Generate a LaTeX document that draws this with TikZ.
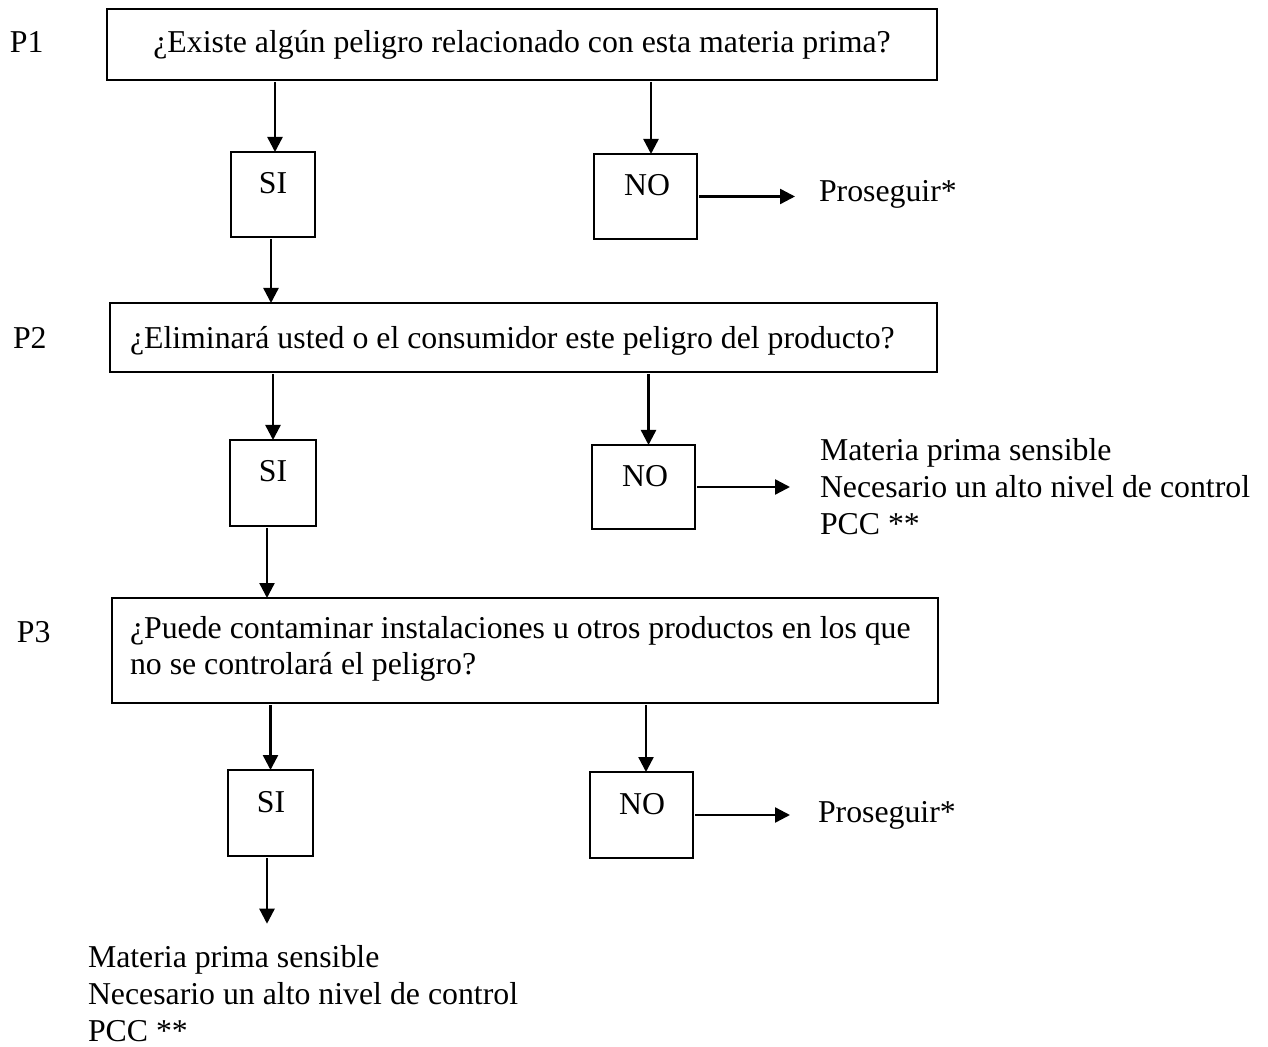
\documentclass[tikz,border=0pt]{standalone}
\usepackage{fontspec}
\setmainfont{Liberation Serif}
\usetikzlibrary{arrows.meta,calc}
\begin{document}
\begin{tikzpicture}[x=0.5pt,y=-0.5pt,
  box/.style={draw, line width=1pt, inner sep=0pt, outer sep=0pt},
  lbl/.style={inner sep=0pt, outer sep=0pt, font=\fontsize{15.9pt}{18.3pt}\selectfont},
  arr/.style={line width=1.2pt, shorten <=1pt, -{Triangle[length=7.5pt,width=7.5pt]}},
]
\useasboundingbox (0,0) rectangle (1268,1047);

% question boxes
\node[box, minimum width=415pt, minimum height=35.5pt] (q1) at (522,44.5) {};
\node[box, minimum width=413.5pt, minimum height=34.5pt] (q2) at (523.5,337.5) {};
\node[box, minimum width=413pt, minimum height=52.5pt] (q3) at (525,650.5) {};

% answer boxes
\node[box, minimum width=42pt, minimum height=42.5pt] (si1) at (273,194.5) {};
\node[box, minimum width=51.5pt, minimum height=42.5pt] (no1) at (645.5,196.5) {};
\node[box, minimum width=43pt, minimum height=43pt] (si2) at (273,483) {};
\node[box, minimum width=51.5pt, minimum height=42pt] (no2) at (643.5,487) {};
\node[box, minimum width=42.5pt, minimum height=43pt] (si3) at (270.5,813) {};
\node[box, minimum width=51.5pt, minimum height=43pt] (no3) at (641.5,815) {};

% question labels and texts (multi-line nodes sit on their last baseline)
\node[lbl, anchor=base west] (p1) at (10,53) {P1};
\node[lbl, anchor=base west] (p2) at (13,349) {P2};
\node[lbl, anchor=base west] (p3) at (17,642) {P3};
\node[lbl, anchor=base] (q1t) at (522,53) {¿Existe algún peligro relacionado con esta materia prima?};
\node[lbl, anchor=base west] (q2t) at (130,349) {¿Eliminará usted o el consumidor este peligro del producto?};
\node[lbl, anchor=base west, align=left] (q3t) at (130,674.6) {¿Puede contaminar instalaciones u otros productos en los que\\no se controlará el peligro?};

% answer texts
\node[lbl, anchor=base] (si1t) at (273,194) {SI};
\node[lbl, anchor=base] (no1t) at (647,196) {NO};
\node[lbl, anchor=base] (si2t) at (273,482) {SI};
\node[lbl, anchor=base] (no2t) at (645,487) {NO};
\node[lbl, anchor=base] (si3t) at (271,812) {SI};
\node[lbl, anchor=base] (no3t) at (642,814) {NO};

% outcomes
\node[lbl, anchor=base west] (pr1) at (819,202) {Proseguir*};
\node[lbl, anchor=base west, align=left] (sens1) at (820,534) {Materia prima sensible\\Necesario un alto nivel de control\\PCC **};
\node[lbl, anchor=base west] (pr2) at (818,822) {Proseguir*};
\node[lbl, anchor=base west, align=left] (sens2) at (88,1041) {Materia prima sensible\\Necesario un alto nivel de control\\PCC **};

% connectors, row 1
\coordinate (a1) at ($(si1.north)+(1pt,0)$);
\draw[arr] (q1.south -| a1) -- (a1);
\coordinate (a2) at ($(no1.north)+(2.75pt,0)$);
\draw[arr] (q1.south -| a2) -- (a2);
\draw[arr, shorten >=12pt] (no1.east) -- (no1.east -| pr1.west);
\coordinate (a3) at ($(si1.south)+(-1pt,0)$);
\draw[arr] (a3) -- (a3 |- q2.north);

% connectors, row 2
\draw[arr] (q2.south -| si2.north) -- (si2.north);
\coordinate (a4) at ($(no2.north)+(2.5pt,0)$);
\draw[arr] (q2.south -| a4) -- (a4);
\draw[arr, shorten >=15pt] (no2.east) -- (no2.east -| sens1.west);
\coordinate (a5) at ($(si2.south)+(-3pt,0)$);
\draw[arr] (a5) -- (a5 |- q3.north);

% connectors, row 3
\draw[arr] (q3.south -| si3.north) -- (si3.north);
\coordinate (a6) at ($(no3.north)+(2.25pt,0)$);
\draw[arr] (q3.south -| a6) -- (a6);
\draw[arr, shorten >=14pt] (no3.east) -- (no3.east -| pr2.west);
\coordinate (a7) at ($(si3.south)+(-1.75pt,0)$);
\draw[arr, shorten >=11pt] (a7) -- (a7 |- sens2.north);
\end{tikzpicture}
\end{document}
